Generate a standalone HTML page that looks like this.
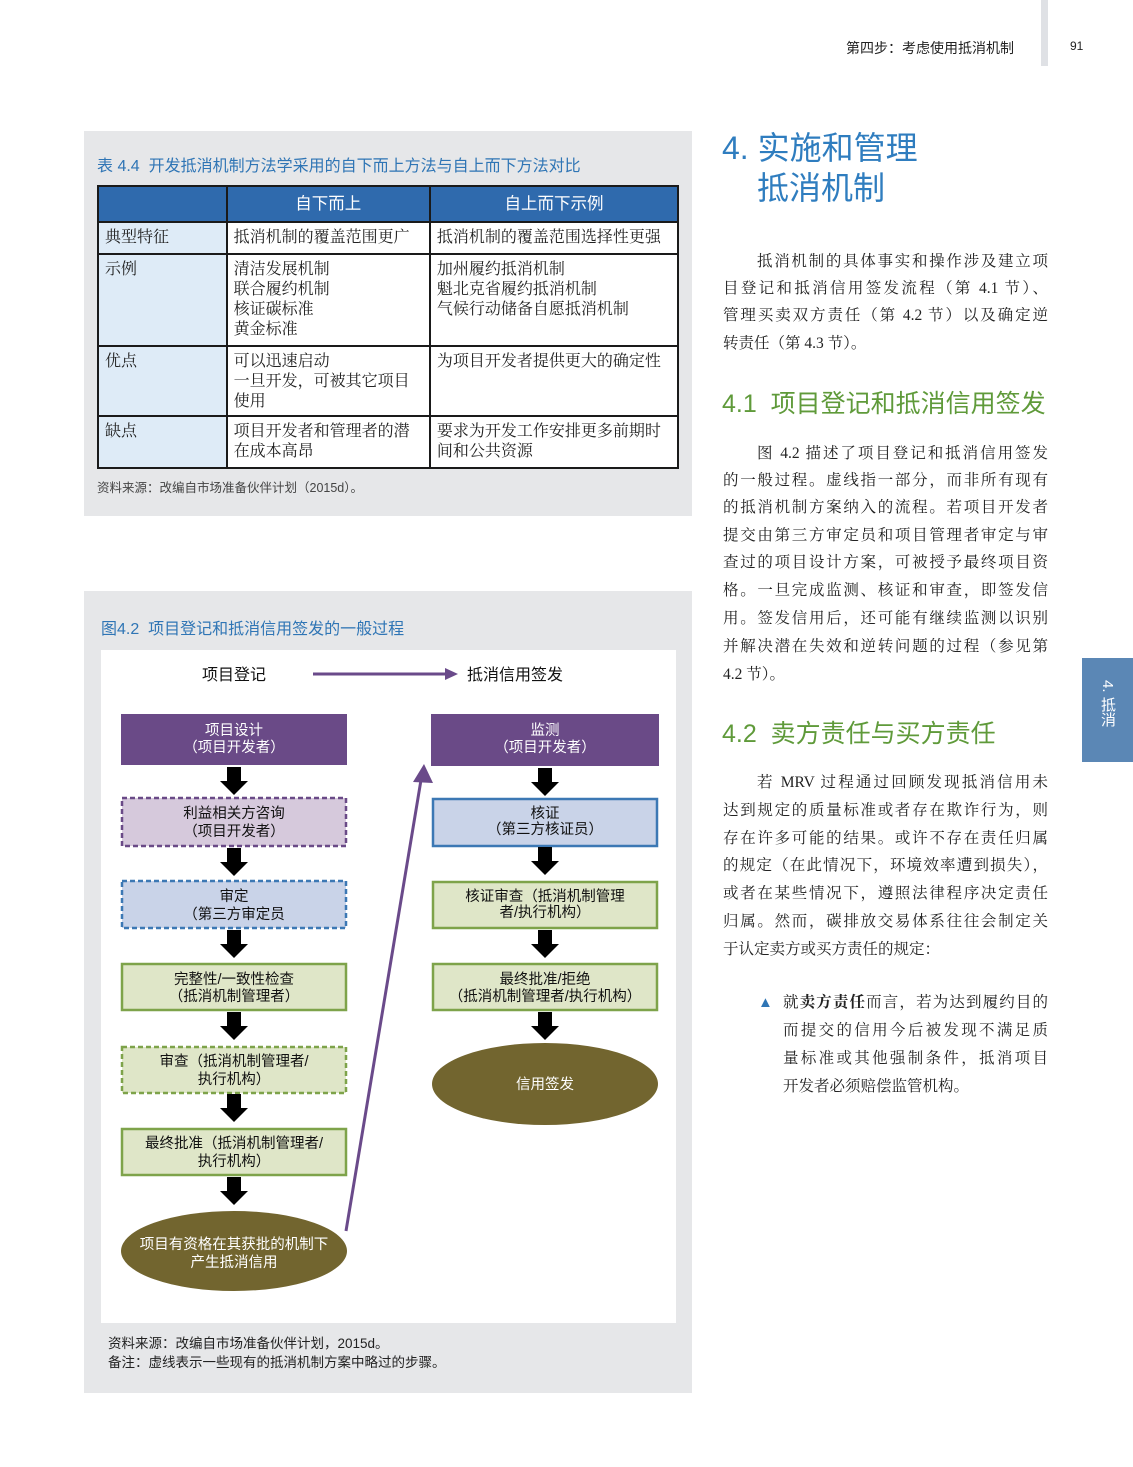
<!DOCTYPE html>
<html><head><meta charset="utf-8">
<style>
*{margin:0;padding:0;box-sizing:border-box}
body{width:1133px;height:1467px;background:#fff;position:relative;overflow:hidden;font-family:"Liberation Sans","Noto Sans CJK SC",sans-serif}
.a{position:absolute}
.ln{position:absolute;height:22px;line-height:22px;font-family:"Liberation Serif","Noto Serif CJK SC",serif;font-size:15.5px;color:#222;text-align:justify;text-align-last:justify;white-space:nowrap}
table{border-collapse:collapse;position:absolute;left:97px;top:185px;width:582px;font-family:"Liberation Serif","Noto Serif CJK SC",serif;font-size:16px;color:#222}
td{border:2px solid #1a1a1a;vertical-align:top;padding:5px 6px 3px;line-height:20px;background:#fff}
td.h{background:#2f6aad;color:#fff;text-align:center;font-family:"Liberation Sans","Noto Sans CJK SC",sans-serif;font-size:16.5px;vertical-align:middle;padding:5px}
td.f{background:#deebf7}
</style></head><body>
<div class="a" style="left:846px;top:38px;font-size:14px;color:#222">第四步：考虑使用抵消机制</div>
<div class="a" style="left:1041px;top:0;width:7px;height:66px;background:#dfe1e5"></div>
<div class="a" style="left:1070px;top:39px;font-size:12px;color:#222">91</div>

<!-- table panel -->
<div class="a" style="left:84px;top:131px;width:608px;height:385px;background:#e6e7e9"></div>
<div class="a" style="left:97px;top:152px;font-size:16px;color:#2f75b5">表 4.4&nbsp;&nbsp;开发抵消机制方法学采用的自下而上方法与自上而下方法对比</div>
<table>
<colgroup><col style="width:129px"><col style="width:204px"><col style="width:249px"></colgroup>
<tr style="height:36px"><td class="h"></td><td class="h">自下而上</td><td class="h">自上而下示例</td></tr>
<tr style="height:32px"><td class="f">典型特征</td><td>抵消机制的覆盖范围更广</td><td>抵消机制的覆盖范围选择性更强</td></tr>
<tr style="height:92px"><td class="f">示例</td><td>清洁发展机制<br>联合履约机制<br>核证碳标准<br>黄金标准</td><td>加州履约抵消机制<br>魁北克省履约抵消机制<br>气候行动储备自愿抵消机制</td></tr>
<tr style="height:70px"><td class="f">优点</td><td>可以迅速启动<br>一旦开发，可被其它项目<br>使用</td><td>为项目开发者提供更大的确定性</td></tr>
<tr style="height:52px"><td class="f">缺点</td><td>项目开发者和管理者的潜<br>在成本高昂</td><td>要求为开发工作安排更多前期时<br>间和公共资源</td></tr>
</table>
<div class="a" style="left:97px;top:477px;font-size:12.5px;color:#444">资料来源：改编自市场准备伙伴计划（2015d）。</div>

<!-- figure panel -->
<div class="a" style="left:84px;top:591px;width:608px;height:802px;background:#e6e7e9"></div>
<div class="a" style="left:101px;top:615px;font-size:16px;color:#2f75b5">图4.2&nbsp;&nbsp;项目登记和抵消信用签发的一般过程</div>
<div class="a" style="left:101px;top:650px;width:575px;height:673px;background:#fff"></div>
<div class="a" style="left:108px;top:1334px;font-size:13.5px;color:#222;line-height:19px">资料来源：改编自市场准备伙伴计划，2015d。<br>备注：虚线表示一些现有的抵消机制方案中略过的步骤。</div>

<svg class="a" style="left:0;top:0" width="1133" height="1467" font-family="Liberation Sans, Noto Sans CJK SC, sans-serif">
<defs>
<g id="ar"><rect x="-7" y="0" width="14" height="15" fill="#000"/><polygon points="-14,14 14,14 0,28" fill="#000"/></g>
</defs>
<text x="234" y="680" font-size="16" text-anchor="middle" fill="#111">项目登记</text>
<line x1="313" y1="674" x2="447" y2="674" stroke="#6a4a8a" stroke-width="3"/>
<polygon points="445,668 458,674 445,680" fill="#6a4a8a"/>
<text x="467" y="680" font-size="16" fill="#111">抵消信用签发</text>

<g font-size="14.5" text-anchor="middle" fill="#111">
<rect x="121" y="714" width="226" height="51" fill="#6a4a87"/>
<text x="234" y="735" fill="#fff">项目设计</text><text x="234" y="752" fill="#fff">（项目开发者）</text>
<use href="#ar" x="234" y="767"/>
<rect x="122" y="798" width="224" height="48" fill="#d6c9dc" stroke="#6a4a87" stroke-width="2.5" stroke-dasharray="5,3"/>
<text x="234" y="818">利益相关方咨询</text><text x="234" y="836">（项目开发者）</text>
<use href="#ar" x="234" y="848"/>
<rect x="122" y="881" width="224" height="47" fill="#c9d3e8" stroke="#3c78b4" stroke-width="2.5" stroke-dasharray="5,3"/>
<text x="234" y="901">审定</text><text x="234" y="919">（第三方审定员</text>
<use href="#ar" x="234" y="930"/>
<rect x="122" y="964" width="224" height="46" fill="#dfe6c8" stroke="#7ea34a" stroke-width="2.5"/>
<text x="234" y="984">完整性/一致性检查</text><text x="234" y="1001">（抵消机制管理者）</text>
<use href="#ar" x="234" y="1012"/>
<rect x="122" y="1047" width="224" height="46" fill="#dfe6c8" stroke="#7ea34a" stroke-width="2.5" stroke-dasharray="5,3"/>
<text x="234" y="1066">审查（抵消机制管理者/</text><text x="234" y="1084">执行机构）</text>
<use href="#ar" x="234" y="1094"/>
<rect x="122" y="1129" width="224" height="46" fill="#dfe6c8" stroke="#7ea34a" stroke-width="2.5"/>
<text x="234" y="1148">最终批准（抵消机制管理者/</text><text x="234" y="1166">执行机构）</text>
<use href="#ar" x="234" y="1177"/>
<ellipse cx="234" cy="1251" rx="113" ry="40" fill="#72652f"/>
<text x="234" y="1249" fill="#fff">项目有资格在其获批的机制下</text><text x="234" y="1267" fill="#fff">产生抵消信用</text>

<rect x="431" y="714" width="228" height="52" fill="#6a4a87"/>
<text x="545" y="735" fill="#fff">监测</text><text x="545" y="752" fill="#fff">（项目开发者）</text>
<use href="#ar" x="545" y="768"/>
<rect x="433" y="799" width="224" height="47" fill="#c9d3e8" stroke="#3c78b4" stroke-width="2.5"/>
<text x="545" y="818">核证</text><text x="545" y="834">（第三方核证员）</text>
<use href="#ar" x="545" y="847"/>
<rect x="433" y="882" width="224" height="46" fill="#dfe6c8" stroke="#7ea34a" stroke-width="2.5"/>
<text x="545" y="901">核证审查（抵消机制管理</text><text x="545" y="917">者/执行机构）</text>
<use href="#ar" x="545" y="930"/>
<rect x="433" y="964" width="224" height="46" fill="#dfe6c8" stroke="#7ea34a" stroke-width="2.5"/>
<text x="545" y="984">最终批准/拒绝</text><text x="545" y="1001">（抵消机制管理者/执行机构）</text>
<use href="#ar" x="545" y="1012"/>
<ellipse cx="545" cy="1084" rx="113" ry="41" fill="#72652f"/>
<text x="545" y="1089" fill="#fff">信用签发</text>
</g>
<line x1="346" y1="1231" x2="421" y2="780" stroke="#6a4a8a" stroke-width="3"/>
<polygon points="424,764 433,783 413,782" fill="#6a4a8a"/>
</svg>

<!-- right column -->
<div class="a" style="left:722px;top:128px;font-size:32px;color:#2f7dbf;line-height:40px">4.&nbsp;实施和管理</div>
<div class="a" style="left:757px;top:168px;font-size:32px;color:#2f7dbf;line-height:40px">抵消机制</div>

<div class="ln" style="left:757px;top:251px;width:291px">抵消机制的具体事实和操作涉及建立项</div>
<div class="ln" style="left:723px;top:278px;width:325px">目登记和抵消信用签发流程（第 4.1 节）、</div>
<div class="ln" style="left:723px;top:305px;width:325px">管理买卖双方责任（第 4.2 节）以及确定逆</div>
<div class="ln" style="left:723px;top:333px;text-align-last:auto">转责任（第 4.3 节）。</div>

<div class="a" style="left:722px;top:389px;font-size:25px;color:#5f9a3a;line-height:30px">4.1&nbsp;&nbsp;项目登记和抵消信用签发</div>

<div class="ln" style="left:757px;top:443px;width:291px">图 4.2 描述了项目登记和抵消信用签发</div>
<div class="ln" style="left:723px;top:470px;width:325px">的一般过程。虚线指一部分，而非所有现有</div>
<div class="ln" style="left:723px;top:497px;width:325px">的抵消机制方案纳入的流程。若项目开发者</div>
<div class="ln" style="left:723px;top:525px;width:325px">提交由第三方审定员和项目管理者审定与审</div>
<div class="ln" style="left:723px;top:552px;width:325px">查过的项目设计方案，可被授予最终项目资</div>
<div class="ln" style="left:723px;top:580px;width:325px">格。一旦完成监测、核证和审查，即签发信</div>
<div class="ln" style="left:723px;top:608px;width:325px">用。签发信用后，还可能有继续监测以识别</div>
<div class="ln" style="left:723px;top:636px;width:325px">并解决潜在失效和逆转问题的过程（参见第</div>
<div class="ln" style="left:723px;top:664px;text-align-last:auto">4.2 节）。</div>

<div class="a" style="left:722px;top:719px;font-size:25px;color:#5f9a3a;line-height:30px">4.2&nbsp;&nbsp;卖方责任与买方责任</div>

<div class="ln" style="left:757px;top:772px;width:291px">若 MRV 过程通过回顾发现抵消信用未</div>
<div class="ln" style="left:723px;top:800px;width:325px">达到规定的质量标准或者存在欺诈行为，则</div>
<div class="ln" style="left:723px;top:828px;width:325px">存在许多可能的结果。或许不存在责任归属</div>
<div class="ln" style="left:723px;top:855px;width:325px">的规定（在此情况下，环境效率遭到损失），</div>
<div class="ln" style="left:723px;top:883px;width:325px">或者在某些情况下，遵照法律程序决定责任</div>
<div class="ln" style="left:723px;top:911px;width:325px">归属。然而，碳排放交易体系往往会制定关</div>
<div class="ln" style="left:723px;top:939px;text-align-last:auto">于认定卖方或买方责任的规定：</div>

<div class="a" style="left:758px;top:994px;color:#2f75b5;font-size:15px">▲</div>
<div class="ln" style="left:783px;top:992px;width:265px">就<b>卖方责任</b>而言，若为达到履约目的</div>
<div class="ln" style="left:783px;top:1020px;width:265px">而提交的信用今后被发现不满足质</div>
<div class="ln" style="left:783px;top:1048px;width:265px">量标准或其他强制条件，抵消项目</div>
<div class="ln" style="left:783px;top:1076px;text-align-last:auto">开发者必须赔偿监管机构。</div>

<div class="a" style="left:1082px;top:658px;width:51px;height:104px;background:#5b87b5"></div>
<div class="a" style="left:1096px;top:680px;color:#fff;font-size:15px;writing-mode:vertical-rl;line-height:22px">4. 抵消</div>
</body></html>
